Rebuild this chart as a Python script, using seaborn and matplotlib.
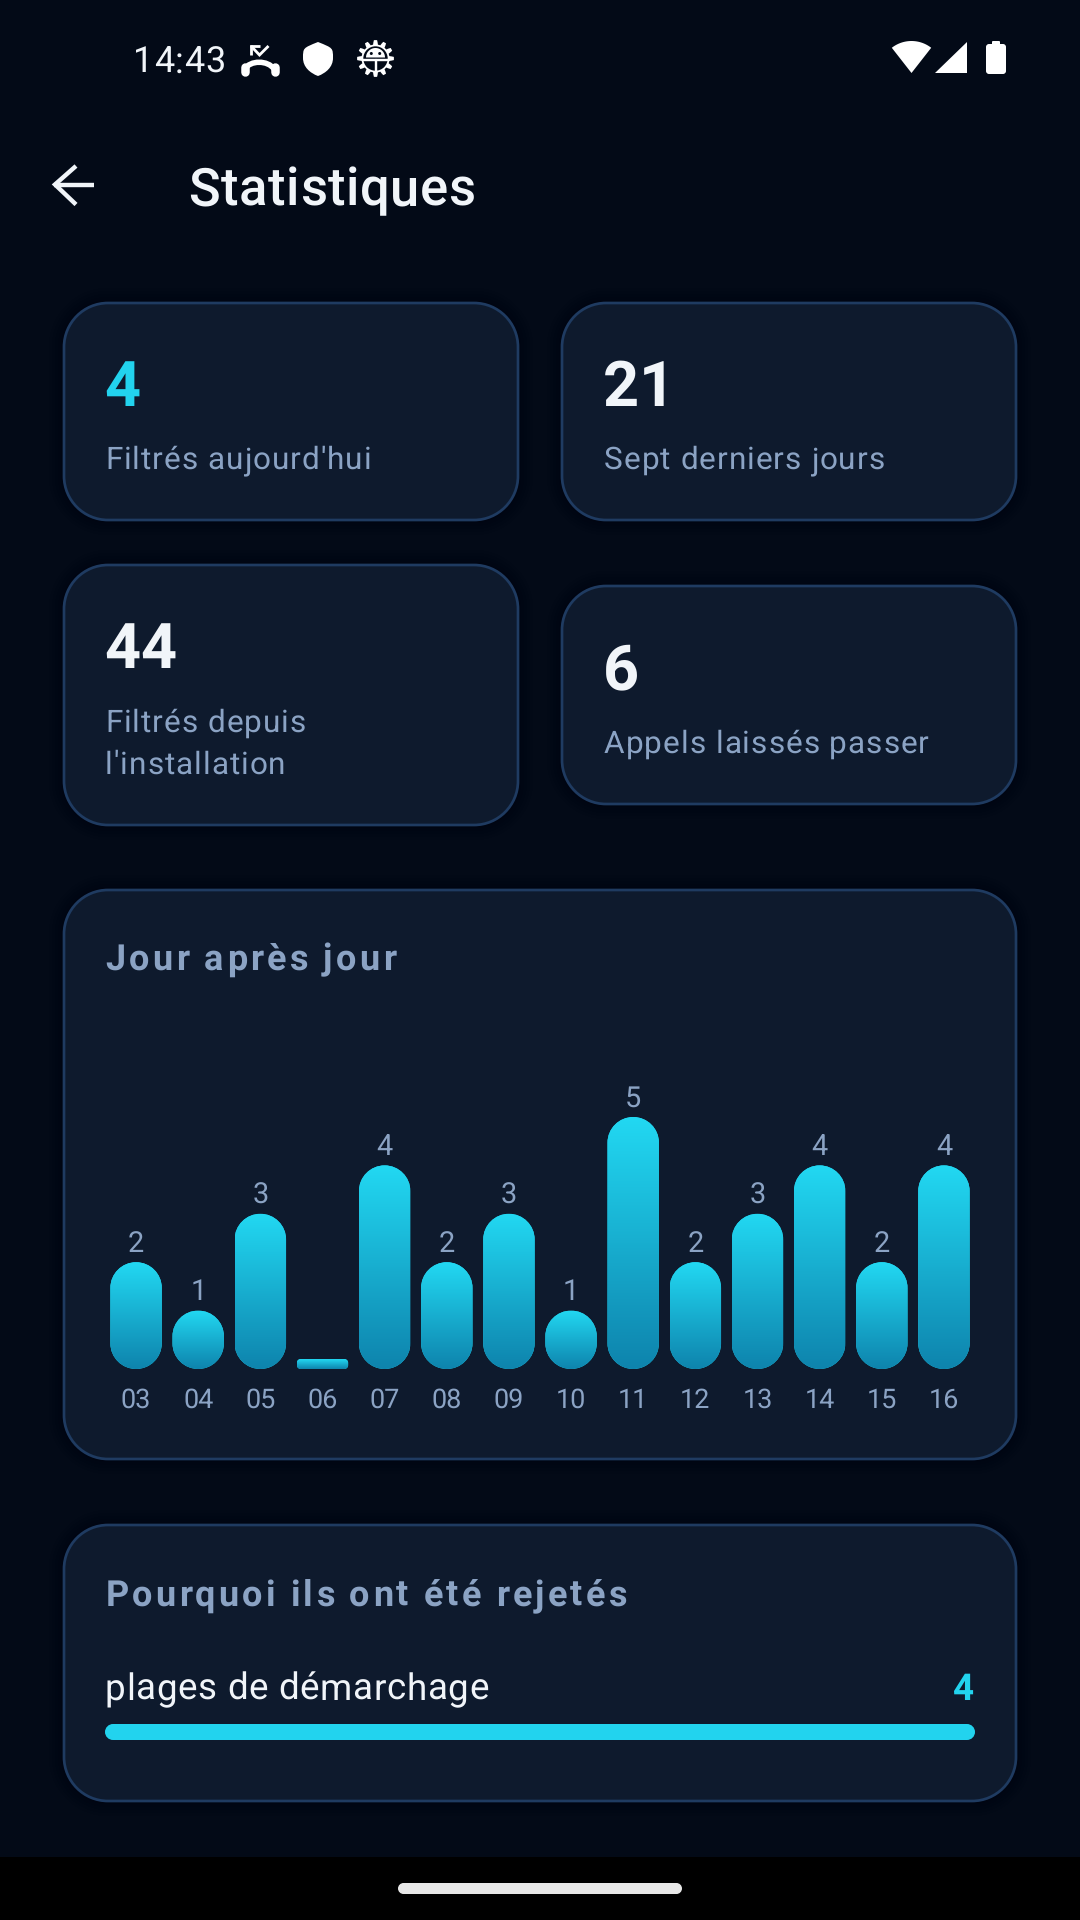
import numpy as np
import matplotlib
matplotlib.use("Agg")
import matplotlib.pyplot as plt
import seaborn as sns
from matplotlib.path import Path
from matplotlib.patches import PathPatch, Rectangle, Circle, Polygon
from matplotlib.text import Text
from matplotlib.transforms import IdentityTransform
from matplotlib.colors import LinearSegmentedColormap

# ---- data ----
days = ["03", "04", "05", "06", "07", "08", "09", "10", "11", "12", "13", "14", "15", "16"]
daily_counts = [2, 1, 3, 0, 4, 2, 3, 1, 5, 2, 3, 4, 2, 4]
stat_values = ["4", "21", "44", "6"]
stat_labels = ["Filtrés aujourd'hui", "Sept derniers jours", "Filtrés depuis\nl'installation", "Appels laissés passer"]
reasons = ["plages de démarchage"]
reason_counts = [4]
title = "Statistiques"
clock = "14:43"
chart_title = "Jour après jour"
reasons_title = "Pourquoi ils ont été rejetés"

# ---- palette ----
BG = "#030a17"
CARD = "#0e1a2d"
BORDER = "#1f3b61"
CYAN = "#22d3ee"
MUTED = "#8ba3c4"
LIGHT = "#f1f5f9"
WHITE = "#ffffff"

sns.set_theme(style="dark")
plt.rcParams["font.family"] = ["Roboto", "DejaVu Sans"]
plt.rcParams["text.hinting"] = "no_hinting"
PT = 0.72  # px to pt at 100 dpi

fig = plt.figure(figsize=(10.8, 19.2), dpi=100, facecolor=BG)
ui = fig.add_axes([0, 0, 1, 1], zorder=0)
ui.set_xlim(0, 1080)
ui.set_ylim(1920, 0)
ui.axis("off")


class SpacedText(Text):
    """Real text with letter spacing (px), drawn glyph by glyph."""

    def __init__(self, *a, spacing=0.0, **k):
        super().__init__(*a, **k)
        self.spacing = spacing

    def draw(self, renderer):
        if not self.get_visible():
            return
        s = self.get_text()
        prop = self.get_fontproperties()
        width = lambda t: renderer.get_text_width_height_descent(t, prop, False)[0] if t else 0
        x0, y0 = self.get_transform().transform(self.get_position())
        total = width(s) + self.spacing * (len(s) - 1)
        if self.get_ha() == "right":
            x0 -= total
        elif self.get_ha() == "center":
            x0 -= total / 2
        for i, ch in enumerate(s):
            if ch == " ":
                continue
            g = Text(x0 + width(s[:i + 1]) - width(ch) + i * self.spacing, y0, ch,
                     fontproperties=prop, color=self.get_color(), ha="left", va="baseline",
                     transform=IdentityTransform())
            g.set_figure(self.get_figure())
            g.draw(renderer)


def label(x, y, s, px, color, weight="normal", spacing=0.0, ha="left"):
    t = SpacedText(x, y, s, spacing=spacing, color=color, fontsize=px * PT, fontweight=weight,
                   ha=ha, va="baseline", family=["Roboto", "DejaVu Sans"],
                   transform=ui.transData)
    ui.add_artist(t)
    return t


def rrect(x0, y0, x1, y1, r):
    k = 0.5523 * r
    v = [(x0 + r, y0), (x1 - r, y0), (x1 - r + k, y0), (x1, y0 + r - k), (x1, y0 + r),
         (x1, y1 - r), (x1, y1 - r + k), (x1 - r + k, y1), (x1 - r, y1),
         (x0 + r, y1), (x0 + r - k, y1), (x0, y1 - r + k), (x0, y1 - r),
         (x0, y0 + r), (x0, y0 + r - k), (x0 + r - k, y0), (x0 + r, y0), (x0 + r, y0)]
    c = [Path.MOVETO, Path.LINETO, Path.CURVE4, Path.CURVE4, Path.CURVE4, Path.LINETO,
         Path.CURVE4, Path.CURVE4, Path.CURVE4, Path.LINETO, Path.CURVE4, Path.CURVE4, Path.CURVE4,
         Path.LINETO, Path.CURVE4, Path.CURVE4, Path.CURVE4, Path.CLOSEPOLY]
    return Path(v, c)


def card(x0, y0, x1, y1, r=44):
    for g in range(15, 0, -3):
        ui.add_patch(PathPatch(rrect(x0 - g, y0 - g, x1 + g, y1 + g, r + g),
                               fc="black", ec="none", alpha=0.025))
    ui.add_patch(PathPatch(rrect(x0, y0, x1, y1, r), fc=CARD, ec=BORDER, lw=2.7 * PT))


# ---- cards ----
cards = [(64, 303, 518, 520), (562, 303, 1016, 520), (64, 565, 518, 825), (562, 586, 1016, 804),
         (64, 890, 1016, 1459), (64, 1525, 1016, 1801)]
for c in cards:
    card(*c)

# ---- nav bar ----
ui.add_patch(Rectangle((0, 1857), 1080, 63, fc="black", ec="none"))
ui.add_patch(PathPatch(rrect(398, 1883, 682, 1894, 5.5), fc="#e8e8e8", ec="none"))

# ---- status bar ----
label(133.5, 72.5, clock, 36, LIGHT, spacing=0.6)
# missed call icon
s = dict(color=WHITE, solid_capstyle="butt", solid_joinstyle="miter")
ui.plot([251, 259.5, 268.5], [46, 55, 46], lw=2.8 * PT, **s)
ui.plot([259.5, 251, 251], [46, 46, 54.5], lw=2.8 * PT, **s)
ui.add_patch(PathPatch(Path([(245, 69), (250, 60), (268, 60), (274, 69)],
                            [Path.MOVETO, Path.CURVE4, Path.CURVE4, Path.CURVE4]),
                       fc="none", ec=WHITE, lw=5.5 * PT))
ui.plot([244.5, 244.5], [67, 72], color=WHITE, lw=8.5 * PT, solid_capstyle="round")
ui.plot([274.5, 274.5], [67, 72], color=WHITE, lw=8.5 * PT, solid_capstyle="round")
# shield icon
ui.add_patch(PathPatch(Path([(318, 42), (333, 48), (333, 48), (333, 58), (333, 67), (326, 73), (318, 76),
                             (310, 73), (303, 67), (303, 58), (303, 48), (303, 48), (318, 42)],
                            [Path.MOVETO] + [Path.CURVE4] * 12), fc=WHITE, ec="none"))
# gear icon
cx, cy = 375.5, 58.5
ang = np.linspace(0, 2 * np.pi, 145)[:-1]
rad = 16.2 + 2.2 * np.clip(2.2 * np.cos(12 * ang), -1, 1)
ui.add_patch(Polygon(np.c_[cx + rad * np.cos(ang), cy + rad * np.sin(ang)], fc=WHITE, ec="none"))
ui.add_patch(Circle((cx, cy), 12.2, fc=BG, ec="none"))
dome = np.linspace(np.pi, 2 * np.pi, 40)
ui.add_patch(Polygon(np.c_[cx + 9.5 * np.cos(dome), cy - 1 + 9.5 * np.sin(dome)], fc=WHITE, ec="none"))
ui.add_patch(Circle((cx - 4.2, cy - 5), 1.5, fc=BG, ec="none"))
ui.add_patch(Circle((cx + 4.2, cy - 5), 1.5, fc=BG, ec="none"))
ui.plot([cx - 13, cx + 13], [cy + 1, cy + 1], color=WHITE, lw=2.4 * PT)
ui.plot([cx, cx], [cy + 1, cy + 13], color=WHITE, lw=2.4 * PT)
# wifi
a = np.radians(np.linspace(-38, 38, 40))
ui.add_patch(Polygon(np.vstack([[911.5, 73], np.c_[911.5 + 32 * np.sin(a), 73 - 32 * np.cos(a)]]), fc=WHITE, ec="none"))
# signal
ui.add_patch(Polygon([(935, 73), (967, 73), (967, 42)], fc=WHITE, ec="none"))
# battery
ui.add_patch(PathPatch(rrect(986, 44, 1006, 74, 3), fc=WHITE, ec="none"))
ui.add_patch(PathPatch(rrect(992, 41, 1000, 46, 1), fc=WHITE, ec="none"))

# ---- app bar ----
ui.plot([54, 94], [184.5, 184.5], color=LIGHT, lw=4.4 * PT, solid_capstyle="butt")
ui.plot([76, 55, 76], [166, 184.5, 204.5], color=LIGHT, lw=4.4 * PT, solid_capstyle="butt", solid_joinstyle="miter")
label(188.5, 205, title, 52.5, LIGHT, weight="medium", spacing=0.55)

# ---- stat cards ----
BIG = 63
label(104.5, 406, stat_values[0], BIG, CYAN, weight="bold")
label(603, 406, stat_values[1], BIG, LIGHT, weight="bold")
label(104.5, 668, stat_values[2], BIG, LIGHT, weight="bold")
label(603, 689, stat_values[3], BIG, LIGHT, weight="bold")
SM = 31.5
label(105, 469, stat_labels[0], SM, MUTED, spacing=1.0)
label(604, 469, stat_labels[1], SM, MUTED, spacing=1.0)
l1, l2 = stat_labels[2].split("\n")
label(105, 731.5, l1, SM, MUTED, spacing=1.0)
label(105, 773.5, l2, SM, MUTED, spacing=1.0)
label(604, 753, stat_labels[3], SM, MUTED, spacing=1.0)

# ---- section titles ----
label(105.5, 969.5, chart_title, 36, MUTED, weight="bold", spacing=3.2)
label(105.5, 1606, reasons_title, 36, MUTED, weight="bold", spacing=3.15)

# ---- daily bar chart ----
L, R, BASE, TOP = 105.0, 975.0, 1369.0, 1090.0
unit_px = 48.4
floor = -10 / unit_px
ax = fig.add_axes([L / 1080, 1 - BASE / 1920, (R - L) / 1080, (BASE - TOP) / 1920], zorder=1)
ax.patch.set_alpha(0)
sns.barplot(x=days, y=daily_counts, width=0.828, color=CYAN, saturation=1, ax=ax, legend=False)
ax.set_xlim(-0.5, len(days) - 0.5)
ax.set_ylim(floor, floor + (BASE - TOP) / unit_px)
ax.set_autoscale_on(False)
ax.set_yticks([])
ax.set_xlabel("")
ax.set_ylabel("")
ax.grid(False)
for sp in ax.spines.values():
    sp.set_visible(False)
ax.tick_params(axis="x", length=0, pad=13.6, labelsize=27 * PT, labelcolor=MUTED)
for t in ax.get_xticklabels():
    t.set_fontfamily(["Roboto", "DejaVu Sans"])

cmap = LinearSegmentedColormap.from_list("bar", ["#22d8f2", "#0e84ad"])
grad = np.linspace(0, 1, 128).reshape(-1, 1)
fig.canvas.draw()
for i, (p, v) in enumerate(zip(ax.patches, daily_counts)):
    p.set_y(floor)
    p.set_height(v - floor)
    x0 = p.get_x()
    x1 = x0 + p.get_width()
    (dx0, dy0), (dx1, dy1) = ax.transData.transform([(x0, floor), (x1, v)])
    h = dy1 - dy0
    shape = rrect(dx0, dy0, dx1, dy1, (dx1 - dx0) / 2 if h > 52 else min(26, h / 2) if h > 20 else 4)
    p.set_clip_path(shape, IdentityTransform())
    p.set_linewidth(0)
    im = ax.imshow(grad, extent=(x0, x1, floor, v), origin="upper", aspect="auto", cmap=cmap,
                   vmin=0, vmax=1, zorder=3, interpolation="bilinear")
    im.set_clip_path(shape, IdentityTransform())
    if v > 0:
        ax.annotate(str(v), (i, v), xytext=(0, 10.5 * PT), textcoords="offset points", ha="center",
                    va="baseline", color=MUTED, fontsize=28.9 * PT,
                    family=["Roboto", "DejaVu Sans"], annotation_clip=False)
ax.set_xlim(-0.5, len(days) - 0.5)
ax.set_ylim(floor, floor + (BASE - TOP) / unit_px)

# ---- reasons bar ----
label(104.5, 1700, reasons[0], 36.75, LIGHT, spacing=0.65)
label(974, 1700, str(reason_counts[0]), 36.75, CYAN, weight="bold", ha="right")
ax2 = fig.add_axes([105 / 1080, 1 - 1740 / 1920, 870 / 1080, 16 / 1920], zorder=1)
sns.barplot(x=reason_counts, y=reasons, width=1, color=CYAN, saturation=1, ax=ax2, orient="h", legend=False)
ax2.set_xlim(0, max(reason_counts))
ax2.set_ylim(0.5, -0.5)
ax2.axis("off")
fig.canvas.draw()
(b0, b1), (b2, b3) = ax2.transAxes.transform([(0, 0), (1, 1)])
for p in ax2.patches:
    p.set_linewidth(0)
    p.set_clip_path(rrect(b0, b1, b2, b3, 8), IdentityTransform())

fig.savefig("out.png", dpi=100, facecolor=BG)
